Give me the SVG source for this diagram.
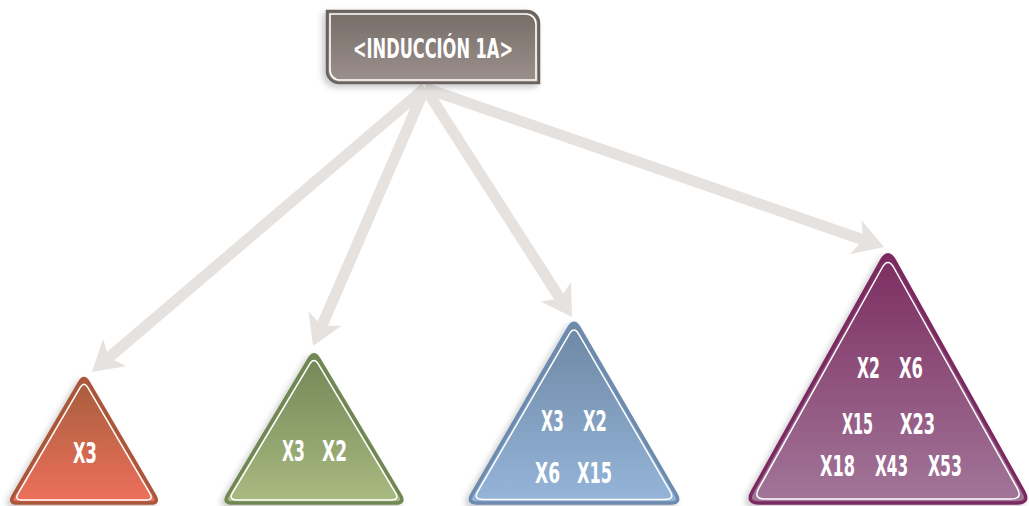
<svg xmlns="http://www.w3.org/2000/svg" width="1029" height="506" viewBox="0 0 1029 506">
  <defs>
    <linearGradient id="gBox" x1="0" y1="0" x2="0" y2="1">
      <stop offset="0" stop-color="#766d68"/>
      <stop offset="1" stop-color="#9c918c"/>
    </linearGradient>
    <linearGradient id="gOr" x1="0" y1="0" x2="0" y2="1">
      <stop offset="0" stop-color="#a65d3c"/>
      <stop offset="1" stop-color="#ee705c"/>
    </linearGradient>
    <linearGradient id="gGr" x1="0" y1="0" x2="0" y2="1">
      <stop offset="0" stop-color="#748656"/>
      <stop offset="1" stop-color="#a9bb80"/>
    </linearGradient>
    <linearGradient id="gBl" x1="0" y1="0" x2="0" y2="1">
      <stop offset="0" stop-color="#6d87a4"/>
      <stop offset="1" stop-color="#95b5d9"/>
    </linearGradient>
    <linearGradient id="gPu" x1="0" y1="0" x2="0" y2="1">
      <stop offset="0" stop-color="#7c2d60"/>
      <stop offset="1" stop-color="#a27699"/>
    </linearGradient>
    <filter id="sh" x="-10%" y="-10%" width="120%" height="125%">
      <feDropShadow dx="-3" dy="3" stdDeviation="3" flood-color="#000" flood-opacity="0.22"/>
    </filter>
    <marker id="ah" viewBox="0 0 30 36" markerUnits="userSpaceOnUse" markerWidth="30" markerHeight="36" refX="10" refY="18" orient="auto">
      <path d="M0,0 L30,18 L0,36 L8,18 Z" fill="#e6e2df"/>
    </marker>
    <style>
      .conn { stroke: #e6e2df; stroke-width: 11; fill: none; marker-end: url(#ah); }
      .inner { fill: none; stroke: #ffffff; stroke-width: 1.6; }
      .lbl { fill: #ffffff; font-family: "DejaVu Sans Condensed", "Liberation Sans", sans-serif; font-weight: bold; font-size: 29px; }
      .title { fill: #ffffff; font-family: "DejaVu Sans Condensed", "Liberation Sans", sans-serif; font-weight: bold; font-size: 26px; }
    </style>
  </defs>

  <g id="connectors">
    <line class="conn" x1="425" y1="88" x2="107.2" y2="359.0"/>
    <line class="conn" x1="425" y1="88" x2="321.0" y2="327.7"/>
    <line class="conn" x1="425" y1="88" x2="561.2" y2="300.2"/>
    <line class="conn" x1="425" y1="88" x2="865.1" y2="240.5"/>
  </g>

  <g id="node-induccion">
    <path d="M327,11 H527 A12,12 0 0 1 539,23 V83 H339 A12,12 0 0 1 327,71 Z" fill="url(#gBox)" stroke="#6b625d" stroke-width="2.5" filter="url(#sh)"/>
    <path class="inner" d="M330,14 H526 A10,10 0 0 1 536,24 V80 H340 A10,10 0 0 1 330,70 Z"/>
    <text class="title" x="353" y="58" textLength="160" lengthAdjust="spacingAndGlyphs">&lt;INDUCCIÓN 1A&gt;</text>
  </g>

  <g id="node-tri1">
    <path d="M79.96,381.9 Q84,375 88.04,381.9 L154.96,496.1 Q159,503 151,503 L17,503 Q9,503 13.04,496.1 Z" fill="url(#gOr)" stroke="#aa563a" stroke-width="3.5" filter="url(#sh)"/>
    <path class="inner" transform="translate(84,460.02) scale(0.93) translate(-84,-460.02)" d="M79.96,381.9 Q84,375 88.04,381.9 L154.96,496.1 Q159,503 151,503 L17,503 Q9,503 13.04,496.1 Z"/>
    <text class="lbl" x="73" y="463" textLength="24" lengthAdjust="spacingAndGlyphs">X3</text>
  </g>

  <g id="node-tri2">
    <path d="M309.38,358.72 Q314,351 318.62,358.72 L400.38,495.28 Q405,503 396,503 L232,503 Q223,503 227.62,495.28 Z" fill="url(#gGr)" stroke="#6f8752" stroke-width="3.5" filter="url(#sh)"/>
    <path class="inner" transform="translate(314,451.42) scale(0.942) translate(-314,-451.42)" d="M309.38,358.72 Q314,351 318.62,358.72 L400.38,495.28 Q405,503 396,503 L232,503 Q223,503 227.62,495.28 Z"/>
    <text class="lbl" x="282" y="461" textLength="23" lengthAdjust="spacingAndGlyphs">X3</text>
    <text class="lbl" x="322" y="461" textLength="25" lengthAdjust="spacingAndGlyphs">X2</text>
  </g>

  <g id="node-tri3">
    <path d="M568.97,327.64 Q574,319 579.03,327.64 L675.97,494.36 Q681,503 671,503 L477,503 Q467,503 472.03,494.36 Z" fill="url(#gBl)" stroke="#6c8bae" stroke-width="3.5" filter="url(#sh)"/>
    <path class="inner" transform="translate(574,441.45) scale(0.943) translate(-574,-441.45)" d="M568.97,327.64 Q574,319 579.03,327.64 L675.97,494.36 Q681,503 671,503 L477,503 Q467,503 472.03,494.36 Z"/>
    <text class="lbl" x="541" y="431" textLength="23" lengthAdjust="spacingAndGlyphs">X3</text>
    <text class="lbl" x="583" y="431" textLength="24" lengthAdjust="spacingAndGlyphs">X2</text>
    <text class="lbl" x="535" y="483" textLength="25" lengthAdjust="spacingAndGlyphs">X6</text>
    <text class="lbl" x="577" y="483" textLength="35" lengthAdjust="spacingAndGlyphs">X15</text>
  </g>

  <g id="node-tri4">
    <path d="M881.66,260.35 Q888,249 894.34,260.35 L1023.66,491.65 Q1030,503 1017,503 L759,503 Q746,503 752.34,491.65 Z" fill="url(#gPu)" stroke="#7a2b61" stroke-width="3.5" filter="url(#sh)"/>
    <path class="inner" transform="translate(888,419.7) scale(0.952) translate(-888,-419.7)" d="M881.66,260.35 Q888,249 894.34,260.35 L1023.66,491.65 Q1030,503 1017,503 L759,503 Q746,503 752.34,491.65 Z"/>
    <text class="lbl" x="857" y="378" textLength="23" lengthAdjust="spacingAndGlyphs">X2</text>
    <text class="lbl" x="899" y="378" textLength="24" lengthAdjust="spacingAndGlyphs">X6</text>
    <text class="lbl" x="842" y="434" textLength="31" lengthAdjust="spacingAndGlyphs">X15</text>
    <text class="lbl" x="900" y="434" textLength="35" lengthAdjust="spacingAndGlyphs">X23</text>
    <text class="lbl" x="820" y="476" textLength="35" lengthAdjust="spacingAndGlyphs">X18</text>
    <text class="lbl" x="875" y="476" textLength="33" lengthAdjust="spacingAndGlyphs">X43</text>
    <text class="lbl" x="928" y="476" textLength="34" lengthAdjust="spacingAndGlyphs">X53</text>
  </g>
</svg>
